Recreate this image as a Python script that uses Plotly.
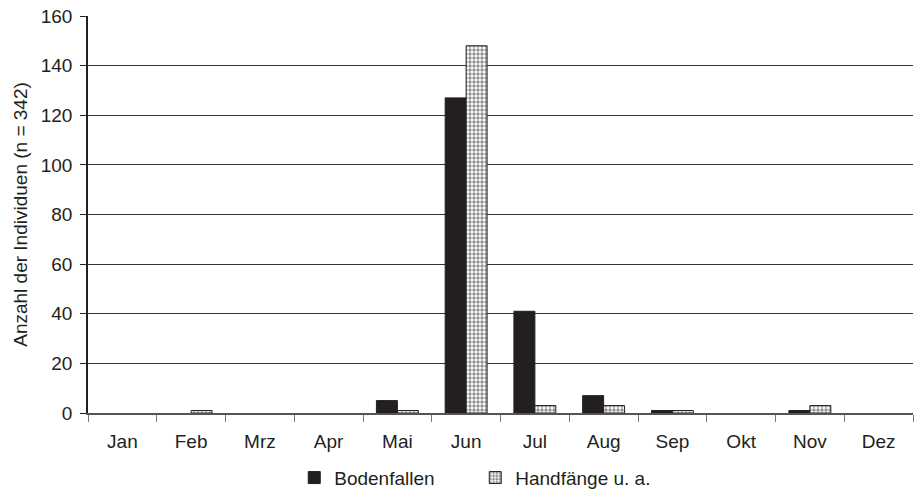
import plotly.graph_objects as go

months = ["Jan", "Feb", "Mrz", "Apr", "Mai", "Jun", "Jul", "Aug", "Sep", "Okt", "Nov", "Dez"]
bodenfallen = [0, 0, 0, 0, 5, 127, 41, 7, 1, 0, 1, 0]
handfaenge = [0, 1, 0, 0, 1, 148, 3, 3, 1, 0, 3, 0]
y_ticks = [0, 20, 40, 60, 80, 100, 120, 140, 160]

font_family = "Liberation Sans, Arial, sans-serif"
ink = "#231f20"


def nonzero(values):
    # months without catches get no bar at all (avoids a hairline at the baseline)
    return [v if v else None for v in values]


fig = go.Figure()
fig.add_trace(go.Bar(
    x=months, y=nonzero(bodenfallen), name="Bodenfallen",
    marker=dict(color=ink, line=dict(color=ink, width=1)),
))
fig.add_trace(go.Bar(
    x=months, y=nonzero(handfaenge), name="Handfänge u. a.",
    marker=dict(
        color="white",
        line=dict(color=ink, width=1),
        pattern=dict(shape=".", fgcolor=ink, bgcolor="white", size=4, solidity=0.55),
    ),
))

fig.update_layout(
    width=916, height=490,
    margin=dict(l=88, r=3, t=16, b=77, autoexpand=False),
    paper_bgcolor="white", plot_bgcolor="white",
    barmode="group", bargap=0.39, bargroupgap=0,
    font=dict(family=font_family, size=19, color=ink),
    showlegend=True,
    legend=dict(orientation="h", x=0.25, xanchor="left", y=-0.163, yanchor="middle",
                font=dict(size=19), itemwidth=30, entrywidth=136, entrywidthmode="pixels",
                traceorder="normal"),
    xaxis=dict(
        type="category", showline=True, linecolor="#555", linewidth=1.5,
        ticks="outside", tickson="boundaries", ticklen=7, tickcolor="#777", tickwidth=1,
        showgrid=False, tickfont=dict(size=19), ticklabelstandoff=10,
    ),
    yaxis=dict(
        range=[0, 160], tickvals=y_ticks, showline=True, linecolor=ink, linewidth=1.5,
        ticks="outside", ticklen=6, tickcolor=ink, ticklabelstandoff=4,
        showgrid=True, gridcolor="#333", gridwidth=1.3, zeroline=False,
        title=dict(text="Anzahl der Individuen (n = 342)", font=dict(size=19), standoff=8),
        tickfont=dict(size=19),
    ),
)

fig.write_html("out.html")
